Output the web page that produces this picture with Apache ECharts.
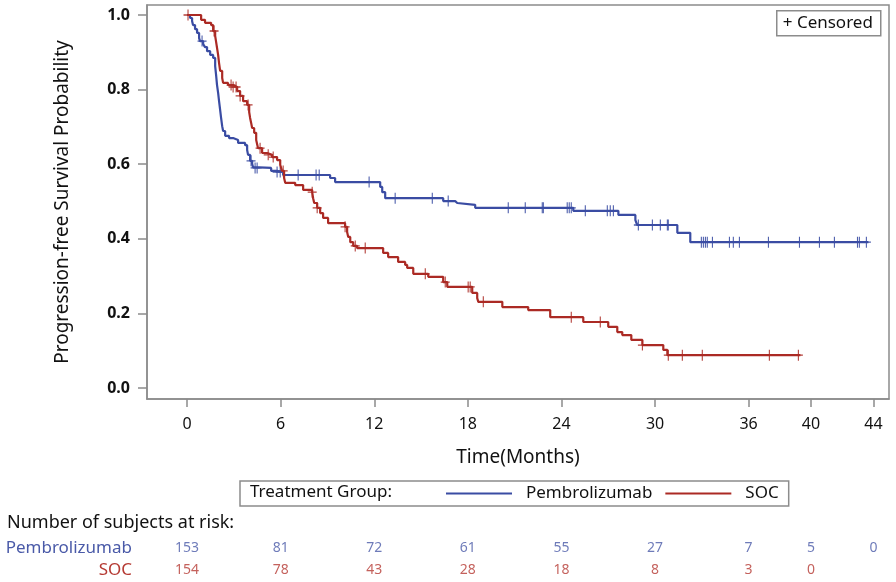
<!DOCTYPE html>
<html>
<head>
<meta charset="utf-8">
<script src="https://cdn.jsdelivr.net/npm/echarts@6/dist/echarts.min.js"></script>
<style>
html, body { margin: 0; padding: 0; background: #fff; }
#km { width: 896px; height: 582px; }
</style>
</head>
<body>
<div id="km"></div>
<script>
// 曲线台阶 [月, 生存率]
var pembroSteps = [
	[0, 1.0], [0.19, 0.992], [0.32, 0.984], [0.38, 0.973], [0.51, 0.962], [0.64, 0.952],
	[0.77, 0.938], [0.83, 0.930], [1.03, 0.922], [1.15, 0.914], [1.28, 0.903], [1.48, 0.893],
	[1.67, 0.885], [1.80, 0.863], [1.86, 0.839], [1.92, 0.812], [1.99, 0.791], [2.05, 0.769],
	[2.12, 0.745], [2.18, 0.724], [2.25, 0.702], [2.31, 0.689], [2.44, 0.676], [2.69, 0.670],
	[2.95, 0.665], [3.27, 0.657], [3.72, 0.651], [3.85, 0.638], [3.91, 0.625], [4.04, 0.609],
	[4.17, 0.601], [4.23, 0.592], [4.30, 0.590], [5.39, 0.582], [5.77, 0.579], [6.16, 0.571],
	[9.17, 0.563], [9.49, 0.552], [12.38, 0.539], [12.51, 0.525], [12.70, 0.509], [16.42, 0.501],
	[17.19, 0.496], [17.32, 0.491], [18.47, 0.483], [24.76, 0.475], [27.65, 0.464], [28.74, 0.450],
	[28.86, 0.437], [31.43, 0.416], [32.26, 0.391], [43.68, 0.391]
];
var socSteps = [
	[0, 1.0], [0.90, 0.987], [1.15, 0.979], [1.54, 0.973], [1.67, 0.957], [1.80, 0.944],
	[1.86, 0.928], [1.92, 0.912], [1.99, 0.893], [2.05, 0.871], [2.12, 0.850], [2.25, 0.831],
	[2.31, 0.818], [2.63, 0.812], [2.95, 0.807], [3.21, 0.796], [3.40, 0.783], [3.59, 0.769],
	[3.85, 0.759], [3.98, 0.740], [4.04, 0.724], [4.11, 0.710], [4.17, 0.697], [4.30, 0.684],
	[4.43, 0.665], [4.55, 0.643], [4.81, 0.630], [5.13, 0.625], [5.45, 0.619], [5.77, 0.611],
	[5.97, 0.598], [6.09, 0.582], [6.22, 0.563], [6.29, 0.550], [6.93, 0.544], [7.44, 0.531],
	[8.02, 0.525], [8.08, 0.509], [8.15, 0.496], [8.34, 0.483], [8.53, 0.469], [8.72, 0.456],
	[9.04, 0.442], [10.13, 0.432], [10.26, 0.418], [10.33, 0.405], [10.46, 0.391], [10.65, 0.381],
	[10.90, 0.375], [12.57, 0.362], [12.89, 0.351], [13.53, 0.338], [13.98, 0.330], [14.11, 0.322],
	[14.50, 0.306], [15.46, 0.298], [16.42, 0.284], [16.68, 0.271], [18.28, 0.255], [18.60, 0.241],
	[18.67, 0.231], [20.21, 0.217], [21.87, 0.209], [23.28, 0.190], [25.40, 0.177], [27.00, 0.164],
	[27.58, 0.150], [27.90, 0.142], [28.48, 0.129], [29.19, 0.115], [30.53, 0.102], [30.79, 0.088],
	[39.32, 0.088]
];
// 删失时间（月）
var pembroCensor = [0.96, 4.10, 4.36, 4.49, 5.77, 5.97, 7.12, 8.27, 8.47, 11.67, 13.34, 15.72,
	16.74, 20.59, 21.68, 22.77, 22.84, 24.37, 24.50, 24.63, 25.53, 26.94, 27.13, 27.33,
	28.93, 29.83, 30.34, 30.79, 30.85, 32.97, 33.10, 33.23, 33.35, 33.68, 34.77, 35.02,
	35.41, 37.27, 39.26, 40.54, 41.50, 42.98, 43.10, 43.55];
var socCensor = [0.06, 1.73, 2.82, 2.95, 3.14, 3.40, 3.91, 4.68, 5.20, 5.52, 6.16, 8.02, 8.34,
	10.13, 10.78, 11.42, 15.27, 16.55, 18.02, 18.15, 18.99, 24.63, 26.49, 29.19, 30.85,
	31.75, 33.03, 37.33, 39.19];
// 风险人数
var riskTimes = [0, 6, 12, 18, 24, 30, 36, 40, 44];
var pembroRisk = [153, 81, 72, 61, 55, 27, 7, 5, 0];
var socRisk = [154, 78, 43, 28, 18, 8, 3, 0];
var yTicks = [0, 0.2, 0.4, 0.6, 0.8, 1.0];

var blue = "#3a4ca3";
var red = "#ab2a24";
var font = "Noto Sans";

//查找删失时刻的生存率
function survat(steps, t){
	var s = steps[0][1];
	for(var i=0; i<steps.length; i++){
		if(steps[i][0] <= t) s = steps[i][1];
	}
	return s;
}

function censorpoints(steps, times){
	var pts = [];
	for(var i=0; i<times.length; i++) pts.push([times[i], survat(steps, times[i])]);
	return pts;
}

function riskpoints(risk, name){
	var pts = [];
	for(var i=0; i<risk.length; i++) pts.push([riskTimes[i], name, risk[i]]);
	return pts;
}

var plus = "path://M5,0L5,10M0,5L10,5";
var xmin = -2.57, xmax = 45.0;
var framecolor = "#8c8c8c";

var myChart = echarts.init(document.getElementById("km"));
myChart.setOption({
	animation: false,
	textStyle: {fontFamily: font},
	title: {
		text: "Number of subjects at risk:",
		left: 2, top: 509,
		textStyle: {fontSize: 18, fontWeight: "normal", color: "#111", fontFamily: font}
	},
	legend: {
		left: 240, top: 481,
		padding: [4, 10, 4, 206],
		borderColor: framecolor, borderWidth: 1.5,
		itemWidth: 66, itemHeight: 2, itemGap: 13,
		icon: "rect",
		textStyle: {fontSize: 17, color: "#111", fontFamily: font, padding: [0, 0, 0, 9]},
		data: ["Pembrolizumab", "SOC"]
	},
	grid: [
		{left: 147, right: 7, top: 5, bottom: 183, show: true, borderColor: framecolor, borderWidth: 1.5},
		{left: 147, right: 7, top: 537, height: 44}
	],
	xAxis: [{
		gridIndex: 0, type: "value", min: xmin, max: xmax,
		name: "Time(Months)", nameLocation: "middle", nameGap: 49,
		nameTextStyle: {fontSize: 19, color: "#111"},
		axisLine: {show: true, onZero: false, lineStyle: {color: framecolor, width: 1.5}},
		axisTick: {show: true, length: 8, customValues: riskTimes, lineStyle: {color: framecolor, width: 1.5}},
		axisLabel: {customValues: riskTimes, fontSize: 16, color: "#111", margin: 17},
		splitLine: {show: false}
	}, {
		gridIndex: 1, type: "value", min: xmin, max: xmax, show: false
	}],
	yAxis: [{
		gridIndex: 0, type: "value", min: -0.0295, max: 1.0268,
		name: "Progression-free Survival Probability", nameLocation: "middle", nameGap: 75,
		nameTextStyle: {fontSize: 19, color: "#111"},
		axisLine: {show: true, onZero: false, lineStyle: {color: framecolor, width: 1.5}},
		axisTick: {show: true, length: 9, customValues: yTicks, lineStyle: {color: framecolor, width: 1.5}},
		axisLabel: {
			customValues: yTicks, fontSize: 16, fontWeight: "bold", color: "#111", margin: 17,
			formatter: function(v){ return v.toFixed(1); }
		},
		splitLine: {show: false}
	}, {
		gridIndex: 1, type: "category", inverse: true,
		data: ["Pembrolizumab", "SOC"],
		axisLine: {show: false}, axisTick: {show: false},
		axisLabel: {
			interval: 0, margin: 15, fontSize: 17,
			formatter: function(v){ return v == "SOC" ? "{s|" + v + "}" : "{p|" + v + "}"; },
			rich: {p: {color: "#4a5aa8", fontSize: 17, fontFamily: font}, s: {color: "#b53a33", fontSize: 17, fontFamily: font}}
		}
	}],
	series: [{
		name: "Pembrolizumab", type: "line", step: "end", showSymbol: false,
		xAxisIndex: 0, yAxisIndex: 0,
		lineStyle: {color: blue, width: 2.2}, itemStyle: {color: blue},
		data: pembroSteps
	}, {
		name: "SOC", type: "line", step: "end", showSymbol: false,
		xAxisIndex: 0, yAxisIndex: 0,
		lineStyle: {color: red, width: 2.2}, itemStyle: {color: red},
		data: socSteps
	}, {
		type: "scatter", symbol: plus, symbolSize: [9, 11],
		xAxisIndex: 0, yAxisIndex: 0,
		itemStyle: {color: "none", borderColor: blue, borderWidth: 1.2, opacity: 0.9},
		data: censorpoints(pembroSteps, pembroCensor)
	}, {
		type: "scatter", symbol: plus, symbolSize: [9, 11],
		xAxisIndex: 0, yAxisIndex: 0,
		itemStyle: {color: "none", borderColor: red, borderWidth: 1.2, opacity: 0.9},
		data: censorpoints(socSteps, socCensor)
	}, {
		type: "scatter", symbolSize: 0, xAxisIndex: 1, yAxisIndex: 1,
		label: {show: true, position: "inside", fontSize: 14, color: "#4a5aa8", formatter: function(p){ return p.value[2]; }},
		data: riskpoints(pembroRisk, "Pembrolizumab")
	}, {
		type: "scatter", symbolSize: 0, xAxisIndex: 1, yAxisIndex: 1,
		label: {show: true, position: "inside", fontSize: 14, color: "#b53a33", formatter: function(p){ return p.value[2]; }},
		data: riskpoints(socRisk, "SOC")
	}],
	graphic: [{
		type: "group", left: 776, top: 10,
		children: [{
			type: "rect", shape: {x: 0, y: 0, width: 104, height: 25},
			style: {fill: "#fff", stroke: framecolor, lineWidth: 1.5}
		}, {
			type: "text", x: 6, y: 12.5,
			style: {text: "+ Censored", font: "17px 'Noto Sans'", fill: "#111", textVerticalAlign: "middle"}
		}]
	}, {
		type: "text", left: 250, top: 484,
		style: {text: "Treatment Group:", font: "17px 'Noto Sans'", fill: "#111", letterSpacing: 1}
	}]
});
</script>
</body>
</html>
